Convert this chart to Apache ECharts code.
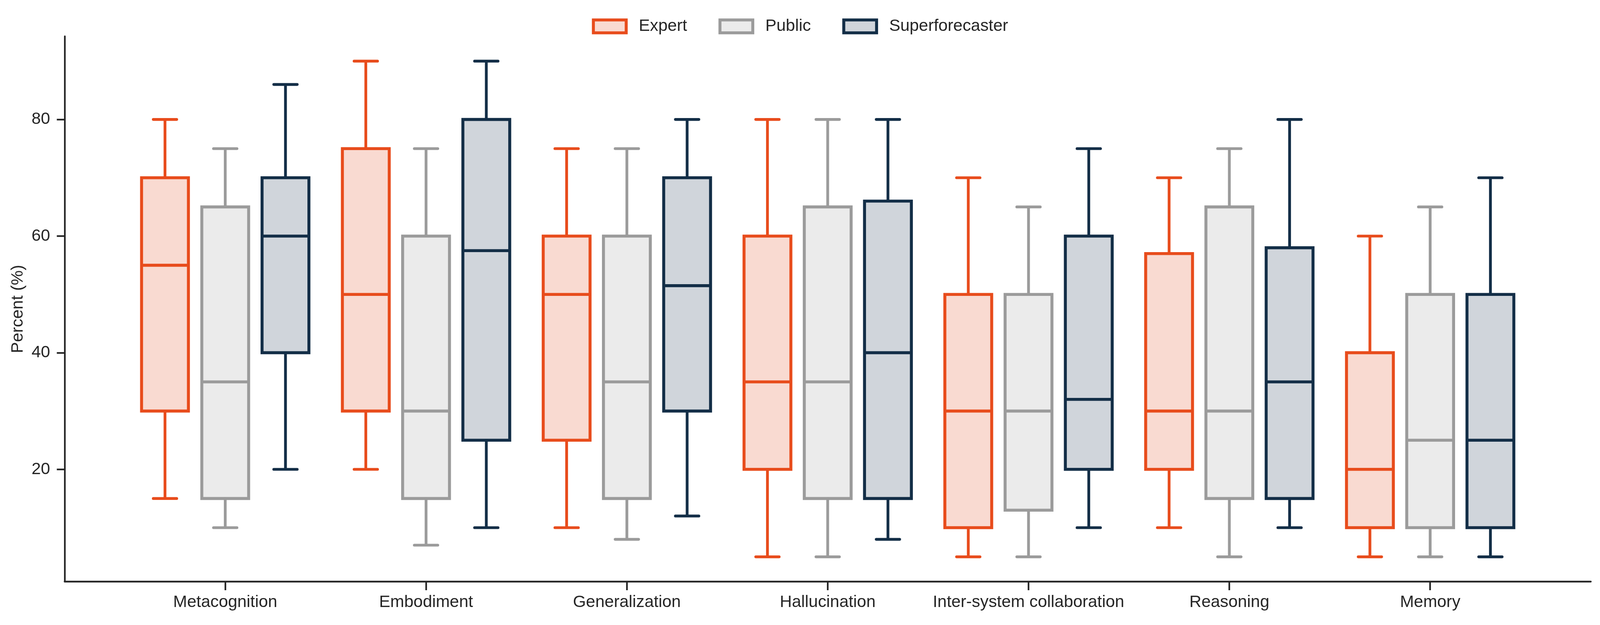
<!DOCTYPE html>
<html>
<head>
<meta charset="utf-8">
<script src="https://cdn.jsdelivr.net/npm/echarts@6/dist/echarts.min.js"></script>
<style>
html,body{margin:0;padding:0;background:#fff;overflow:hidden;}
#chart{width:100vw;height:100vh;}
</style>
</head>
<body>
<div id="chart"></div>
<script>
// ---- data (min, Q1, median, Q3, max) ----
const categories = ['Metacognition', 'Embodiment', 'Generalization', 'Hallucination', 'Inter-system collaboration', 'Reasoning', 'Memory'];
const seriesNames = ['Expert', 'Public', 'Superforecaster'];
const expert = [
  [15, 30, 55, 70, 80],
  [20, 30, 50, 75, 90],
  [10, 25, 50, 60, 75],
  [5, 20, 35, 60, 80],
  [5, 10, 30, 50, 70],
  [10, 20, 30, 57, 70],
  [5, 10, 20, 40, 60]
];
const publicVals = [
  [10, 15, 35, 65, 75],
  [7, 15, 30, 60, 75],
  [8, 15, 35, 60, 75],
  [5, 15, 35, 65, 80],
  [5, 13, 30, 50, 65],
  [5, 15, 30, 65, 75],
  [5, 10, 25, 50, 65]
];
const superforecaster = [
  [20, 40, 60, 70, 86],
  [10, 25, 57.5, 80, 90],
  [12, 30, 51.5, 70, 80],
  [8, 15, 40, 66, 80],
  [10, 20, 32, 60, 75],
  [10, 15, 35, 58, 80],
  [5, 10, 25, 50, 70]
];
const yTicks = [20, 40, 60, 80];

// ---- styling ----
const strokes = ['#E84C1C', '#9B9B9B', '#132E47'];
const fills = ['#F9DAD1', '#EBEBEB', '#D0D5DB'];
const offsets = [-0.3, 0, 0.3];
const BOX_WIDTH = 0.2333;
const FONT = '"Liberation Sans", Arial, sans-serif';
const TEXT = '#262626';

// layout is specified in reference pixels (4534 x 1599) and scaled to the viewport
const SX = window.innerWidth / 4534 || 1;
const SY = window.innerHeight / 1599 || 1;
const S = (SX + SY) / 2;
const px = v => v * S;
const pxx = v => v * SX;
const pxy = v => v * SY;

function withIndex(arr) {
  return arr.map((v, i) => [i].concat(v));
}

function makeRender(offset, stroke, fill) {
  return function (params, api) {
    const xc = api.value(0) + offset;
    const pt = k => api.coord([xc, api.value(k)]);
    const pMin = pt(1), pQ1 = pt(2), pMed = pt(3), pQ3 = pt(4), pMax = pt(5);
    const w = api.size([BOX_WIDTH, 0])[0];
    const cx = pMed[0];
    const ls = { stroke: stroke, lineWidth: px(7.5), fill: null };
    const cs = { stroke: stroke, lineWidth: px(7.5), fill: null, lineCap: 'round' };
    return {
      type: 'group',
      children: [
        { type: 'line', shape: { x1: cx, y1: pQ3[1], x2: cx, y2: pMax[1] }, style: ls },
        { type: 'line', shape: { x1: cx, y1: pQ1[1], x2: cx, y2: pMin[1] }, style: ls },
        { type: 'line', shape: { x1: cx - w / 4, y1: pMax[1], x2: cx + w / 4, y2: pMax[1] }, style: cs },
        { type: 'line', shape: { x1: cx - w / 4, y1: pMin[1], x2: cx + w / 4, y2: pMin[1] }, style: cs },
        { type: 'rect', shape: { x: cx - w / 2, y: pQ3[1], width: w, height: pQ1[1] - pQ3[1] },
          style: { fill: fill, stroke: stroke, lineWidth: px(8) } },
        { type: 'line', shape: { x1: cx - w / 2, y1: pMed[1], x2: cx + w / 2, y2: pMed[1] },
          style: { stroke: stroke, lineWidth: px(8), fill: null } }
      ]
    };
  };
}

const allData = [expert, publicVals, superforecaster];

const chart = echarts.init(document.getElementById('chart'), null, { renderer: 'canvas' });
const catIdx = categories.map((c, i) => i);

chart.setOption({
  animation: false,
  backgroundColor: '#ffffff',
  textStyle: { fontFamily: FONT, color: TEXT },
  legend: {
    top: pxy(41),
    left: 'center',
    itemWidth: pxx(93),
    itemHeight: pxy(33),
    itemGap: pxx(89),
    textStyle: { fontFamily: FONT, fontSize: px(45), color: TEXT, padding: [0, 0, 0, pxx(30)] },
    data: seriesNames.map((n, i) => ({
      name: n,
      icon: 'rect',
      itemStyle: { color: fills[i], borderColor: strokes[i], borderWidth: px(8) }
    }))
  },
  grid: { left: pxx(183), right: pxx(26), top: pxy(93), bottom: pxy(111), containLabel: false },
  xAxis: {
    type: 'value',
    min: -0.8,
    max: 6.8,
    splitLine: { show: false },
    axisLine: { show: true, onZero: false, lineStyle: { color: TEXT, width: px(4.5) } },
    axisTick: { show: true, customValues: catIdx, length: pxy(22), lineStyle: { color: TEXT, width: px(4.5) } },
    axisLabel: {
      customValues: catIdx,
      formatter: v => categories[Math.round(v)],
      fontFamily: FONT, fontSize: px(45), color: TEXT, margin: pxy(32)
    }
  },
  yAxis: {
    type: 'value',
    min: 0.75,
    max: 94.25,
    name: 'Percent (%)',
    nameLocation: 'middle',
    nameGap: pxx(108),
    nameTextStyle: { fontFamily: FONT, fontSize: px(45), color: TEXT },
    splitLine: { show: false },
    axisLine: { show: true, onZero: false, lineStyle: { color: TEXT, width: px(4.5) } },
    axisTick: { show: true, customValues: yTicks, length: pxx(22), lineStyle: { color: TEXT, width: px(4.5) } },
    axisLabel: { customValues: yTicks, fontFamily: FONT, fontSize: px(45), color: TEXT, margin: pxx(41) }
  },
  series: seriesNames.map((n, i) => ({
    name: n,
    type: 'custom',
    renderItem: makeRender(offsets[i], strokes[i], fills[i]),
    itemStyle: { color: fills[i], borderColor: strokes[i], borderWidth: px(8) },
    encode: { x: 0, y: [1, 2, 3, 4, 5] },
    data: withIndex(allData[i])
  }))
});
</script>
</body>
</html>
